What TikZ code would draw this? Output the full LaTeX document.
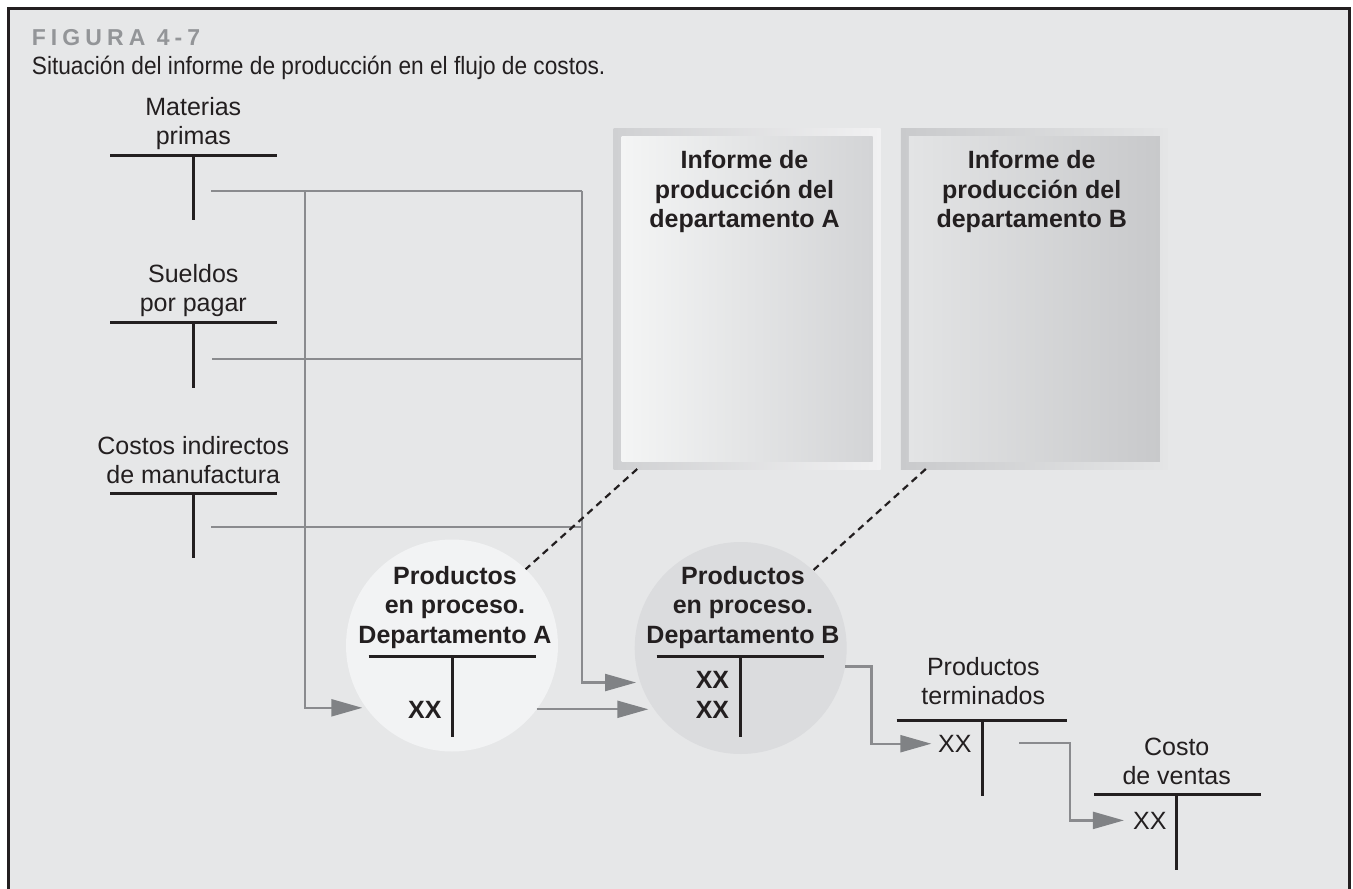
\documentclass[tikz,border=0pt]{standalone}
\usepackage{fontspec}
\setmainfont{Liberation Sans}
\newfontfamily\titulofont{Liberation Sans}[LetterSpace=22]
\newfontfamily\leyendafont{Liberation Sans}[FakeStretch=0.907]
\usetikzlibrary{arrows.meta}

\definecolor{fondo}{HTML}{E6E7E8}
\definecolor{tinta}{HTML}{231F20}
\definecolor{gris}{HTML}{8A8B8E}
\definecolor{punta}{HTML}{808285}
\definecolor{titulogris}{HTML}{939598}
\definecolor{circA}{HTML}{F2F3F4}
\definecolor{circB}{HTML}{DBDCDE}
\definecolor{marcoAizq}{HTML}{CFD0D2}
\definecolor{marcoAder}{HTML}{F1F1F2}
\definecolor{hojaAizq}{HTML}{F4F5F5}
\definecolor{hojaAder}{HTML}{D3D4D6}
\definecolor{marcoBizq}{HTML}{C9CACC}
\definecolor{marcoBder}{HTML}{E4E5E6}
\definecolor{hojaBizq}{HTML}{E3E4E5}
\definecolor{hojaBder}{HTML}{C8C9CB}

\begin{document}
\begin{tikzpicture}[x=1pt,y=-1pt,
    cuenta/.style={font=\fontsize{25}{29.3}\selectfont, align=center, text=tinta, inner sep=0pt, anchor=base},
    negrita/.style={font=\bfseries\fontsize{25}{29.5}\selectfont, align=center, text=tinta, inner sep=0pt, anchor=base},
    flujo/.style={draw=gris, line width=2.2pt},
    flecha/.style={flujo, -{Triangle[length=31pt,width=17pt,color=punta]}},
    tlinea/.style={draw=tinta, line width=3pt},
    enlace/.style={draw=tinta, line width=2.2pt, dash pattern=on 7pt off 5pt},
    bola/.style={circle, minimum size=212pt, inner sep=0pt, outer sep=0pt},
    hoja/.style={minimum width=267pt, minimum height=340.7pt, inner sep=0pt, outer sep=0pt}]
    \useasboundingbox (0,0) rectangle (1353,889);
    % marco
    \fill[fondo] (8,8) rectangle (1349,889);
    \draw[tinta, line width=3pt] (8,889) -- (8,8) -- (1349,8) -- (1349,889);
    \node[anchor=base west, inner sep=0pt, text=titulogris, font=\titulofont\bfseries\fontsize{23}{27}\selectfont] (fig) at (31.7,45) {FIGURA 4-7};
    \node[anchor=base west, inner sep=0pt, text=tinta, font=\leyendafont\fontsize{25}{30}\selectfont] (leyenda) at (31.7,74) {Situación del informe de producción en el flujo de costos.};

    % informes
    \node[hoja, left color=marcoAizq, right color=marcoAder] (infa) at (747,298.65) {};
    \shade[left color=hojaAizq, right color=hojaAder] ([xshift=8pt,yshift=-8pt]infa.north west) rectangle ([xshift=-8pt,yshift=8pt]infa.south east);
    \node[hoja, left color=marcoBizq, right color=marcoBder] (infb) at (1034.3,298.65) {};
    \shade[left color=hojaBizq, right color=hojaBder] ([xshift=8pt,yshift=-8pt]infb.north west) rectangle ([xshift=-8pt,yshift=8pt]infb.south east);
    \node[negrita] (tinfa) at (744.5,227.7) {Informe de\\producción del\\departamento A};
    \node[negrita] (tinfb) at (1031.7,227.7) {Informe de\\producción del\\departamento B};

    % productos en proceso
    \node[bola, fill=circA] (ppa) at (452,645.5) {};
    \node[bola, fill=circB] (ppb) at (740.7,648) {};

    % cuentas T
    \node[cuenta] (mp) at (193.3,144.8) {Materias\\primas};
    \node[cuenta] (sp) at (193.3,311.8) {Sueldos\\por pagar};
    \node[cuenta] (cim) at (193.3,483.3) {Costos indirectos\\de manufactura};
    \node[negrita] (tppa) at (455,643) {Productos\\en proceso.\\Departamento A};
    \node[negrita] (tppb) at (743,643) {Productos\\en proceso.\\Departamento B};
    \node[cuenta] (pt) at (983.3,704.8) {Productos\\terminados};
    \node[cuenta] (cv) at (1176.7,784.3) {Costo\\de ventas};
    \draw[tlinea] (110,155) -- (277,155) (193.3,155) -- (193.3,220);
    \draw[tlinea] (110,322.3) -- (277,322.3) (193.3,322.3) -- (193.3,387.7);
    \draw[tlinea] (110,493.3) -- (277,493.3) (193.3,493.3) -- (193.3,558);
    \draw[tlinea] (368.7,656) -- (536,656) (452,656) -- (452,737.3);
    \draw[tlinea] (656.7,656) -- (824,656) (740,656) -- (740,737.3);
    \draw[tlinea] (896.7,720) -- (1066.7,720) (982.7,720) -- (982.7,795.7);
    \draw[tlinea] (1094,794.3) -- (1260.7,794.3) (1176.7,794.3) -- (1176.7,870);
    \node[negrita, anchor=base east] (paxx) at (441.7,718.3) {XX};
    \node[negrita, anchor=base east] (pbxx) at (729.3,718.3) {XX\\XX};
    \node[cuenta, anchor=base east] (ptxx) at (971.7,752.3) {XX};
    \node[cuenta, anchor=base east] (cvxx) at (1166.7,829) {XX};

    % flujo de costos
    \coordinate (mpo) at (211,191);
    \coordinate (spo) at (212,359);
    \coordinate (cimo) at (211,527);
    \coordinate (izq) at (305,191);
    \coordinate (der) at (582,191);
    \coordinate (pto) at (1019.3,743.3);
    \draw[flujo] (mpo) -- (der);
    \draw[flujo] (spo) -- (spo -| der);
    \draw[flujo] (cimo) -- (cimo -| der);
    \draw[flecha, shorten >=3.9pt] (izq) |- (ppa.216.3);
    \draw[flecha, shorten >=4.4pt] (der) |- (ppb.199.7);
    \draw[flecha, shorten >=4.5pt] (ppa.323.7) -- (ppb.214.45 |- ppa.323.7);
    \draw[flecha, shorten >=6.6pt] (ppb.350.4) -- ++(26.5,0) |- (ptxx.west);
    \draw[flecha, shorten >=9pt] (pto) -- ++(50.7,0) |- (cvxx.west);

    % enlaces con los informes
    \draw[enlace] ([xshift=23.7pt]infa.south west) -- (ppa.46);
    \draw[enlace] ([xshift=25pt]infb.south west) -- (ppb.47);
\end{tikzpicture}
\end{document}
